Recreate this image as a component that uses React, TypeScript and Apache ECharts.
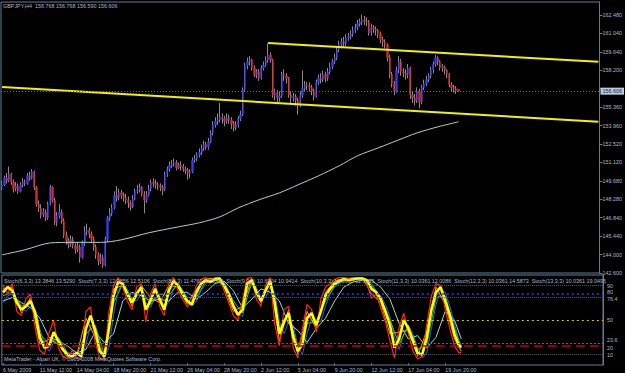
import React, { useEffect, useRef } from 'react';
import * as echarts from 'echarts';

// ---------- texts ----------
const SYMBOL_HEADER = 'GBPJPY,H4  156.768 156.768 156.590 156.606';
const STOCH_HEADER =
  'Stoch(6,3,3) 13.3846 13.5290  Stoch(7,3,3) 12.9856 12.5106  Stoch(8,3,3) 11.4762 11.5804  Stoch(9,3,3) 10.6304 10.9414  Stoch(10,3,3) 10.0630 11.0335  Stoch(11,3,3) 10.0361 12.0086  Stoch(12,3,3) 10.0361 14.5873  Stoch(13,3,3) 10.0361 19.0495';
const COPYRIGHT = 'MetaTrader - Alpari UK, \u00a9 2001-2008 MetaQuotes Software Corp.';

// ---------- axes ----------
const PRICE_TICKS = ['142.600', '144.000', '145.440', '146.840', '148.280', '149.680', '151.120', '152.520', '153.960', '155.360', '', '158.200', '159.640', '161.040', '162.480'];
const PRICE_MIN = 142.6;
const PRICE_STEP = 1.42;
const PRICE_MAX = 163.48;
const CURRENT_PRICE = 156.606;
const CURRENT_LABEL = '156.606';

const TIME_TICKS = ['6 May 2009', '11 May 12:00', '14 May 04:00', '18 May 20:00', '21 May 12:00', '26 May 04:00', '28 May 20:00', '2 Jun 12:00', '5 Jun 04:00', '9 Jun 20:00', '12 Jun 12:00', '17 Jun 04:00', '19 Jun 20:00'];
const BARS_PER_TICK = 16;
const SLOT_COUNT = 261;

// ---------- price data: [open, close, low, high] ----------
const CANDLES: number[][] = [
  [149.2, 149.4, 149.0, 149.7], [149.4, 149.9, 149.3, 150.1], [149.9, 149.7, 149.5, 150.3], [149.7, 150.2, 149.6, 150.8],
  [150.2, 149.6, 149.4, 150.3], [149.6, 149.1, 148.8, 149.8], [149.1, 149.3, 148.9, 149.6], [149.3, 148.9, 148.7, 149.5],
  [148.9, 149.4, 148.8, 149.6], [149.4, 149.6, 149.2, 149.9], [149.6, 149.5, 149.3, 149.8], [149.5, 150.1, 149.4, 150.3],
  [150.1, 149.9, 149.7, 150.4], [149.9, 150.4, 149.8, 150.6], [150.4, 149.2, 149.0, 150.5], [149.2, 147.9, 147.7, 149.3],
  [147.9, 147.6, 147.3, 148.2], [147.6, 147.1, 146.8, 147.9], [147.1, 147.3, 146.9, 147.6], [147.3, 146.85, 146.6, 147.5],
  [146.85, 147.9, 146.7, 148.1], [147.9, 149.2, 147.8, 149.4], [149.2, 148.2, 148.0, 149.3], [148.2, 146.5, 146.3, 148.4],
  [146.5, 147.0, 146.2, 147.3], [147.0, 147.3, 146.8, 147.9], [147.3, 146.6, 146.4, 147.5], [146.6, 145.5, 145.3, 146.8],
  [145.5, 145.1, 144.8, 145.8], [145.1, 144.8, 144.5, 145.3], [144.8, 145.2, 144.6, 145.5], [145.2, 144.7, 144.5, 145.4],
  [144.7, 144.4, 144.1, 144.9], [144.4, 144.6, 144.2, 145.0], [144.6, 143.8, 143.4, 144.8], [143.8, 144.9, 143.7, 145.1],
  [144.9, 145.8, 144.7, 146.2], [145.8, 145.9, 145.5, 146.4], [145.9, 145.6, 145.3, 146.1], [145.6, 145.2, 144.9, 145.8],
  [145.2, 144.6, 144.3, 145.4], [144.6, 144.0, 143.7, 144.8], [144.0, 143.5, 143.2, 144.2], [143.5, 143.8, 143.3, 144.1],
  [143.8, 143.2, 143.0, 144.0], [143.2, 145.2, 143.1, 145.4], [145.2, 146.85, 145.0, 147.0], [146.85, 147.2, 146.6, 147.6],
  [147.2, 147.6, 147.0, 147.9], [147.6, 148.6, 147.5, 148.9], [148.6, 148.4, 148.1, 149.3], [148.4, 148.8, 148.2, 149.1],
  [148.8, 148.6, 148.3, 149.0], [148.6, 148.4, 148.1, 148.8], [148.4, 148.2, 147.9, 148.7], [148.2, 148.0, 147.6, 148.5],
  [148.0, 147.7, 147.4, 148.2], [147.7, 148.3, 147.6, 148.6], [148.3, 148.9, 148.2, 149.1], [148.9, 149.0, 148.7, 149.4],
  [149.0, 149.2, 148.8, 149.5], [149.2, 148.7, 148.5, 149.3], [148.7, 148.2, 147.2, 148.9], [148.2, 148.6, 148.0, 148.9],
  [148.6, 149.1, 148.5, 149.4], [149.1, 149.6, 148.9, 149.8], [149.6, 149.5, 149.2, 149.9], [149.5, 149.4, 149.1, 149.8],
  [149.4, 149.3, 149.0, 149.6], [149.3, 149.2, 148.9, 149.5], [149.2, 149.0, 148.6, 149.4], [149.0, 150.2, 148.9, 150.4],
  [150.2, 150.6, 150.0, 150.8], [150.6, 150.9, 150.4, 151.2], [150.9, 151.0, 150.7, 151.3], [151.0, 151.1, 150.8, 151.4],
  [151.1, 150.7, 150.5, 151.3], [150.7, 150.9, 150.6, 151.1], [150.9, 150.8, 150.5, 151.2], [150.8, 150.6, 150.4, 151.0],
  [150.6, 150.5, 150.2, 150.8], [150.5, 150.3, 149.8, 150.7], [150.3, 150.4, 149.9, 150.6], [150.4, 151.3, 150.3, 151.5],
  [151.3, 151.4, 151.1, 151.7], [151.4, 151.7, 151.2, 151.9], [151.7, 151.9, 151.5, 152.2], [151.9, 152.2, 151.7, 152.5],
  [152.2, 152.5, 152.0, 152.8], [152.5, 152.3, 152.1, 152.7], [152.3, 152.7, 152.1, 153.0], [152.7, 153.4, 152.6, 153.6],
  [153.4, 154.0, 153.2, 154.3], [154.0, 154.3, 153.8, 154.6], [154.3, 154.4, 154.0, 154.9], [154.4, 154.6, 154.2, 155.7],
  [154.6, 154.5, 154.1, 154.9], [154.5, 154.3, 153.9, 154.7], [154.3, 154.6, 154.1, 154.9], [154.6, 154.4, 154.1, 154.8],
  [154.4, 154.1, 153.7, 154.6], [154.1, 153.8, 153.5, 154.3], [153.8, 154.0, 153.6, 154.3], [154.0, 154.5, 153.8, 154.7],
  [154.5, 154.8, 154.3, 155.1], [154.8, 156.7, 154.7, 156.9], [156.7, 158.6, 156.6, 158.8], [158.6, 158.9, 158.3, 159.2],
  [158.9, 159.0, 158.6, 159.3], [159.0, 158.4, 158.2, 159.1], [158.4, 157.9, 157.7, 158.6], [157.9, 158.1, 157.6, 158.3],
  [158.1, 157.6, 157.4, 158.3], [157.6, 158.4, 157.5, 158.6], [158.4, 158.6, 158.2, 158.9], [158.6, 159.0, 158.5, 159.3],
  [159.0, 159.4, 158.8, 160.3], [159.4, 159.0, 158.8, 159.6], [159.0, 156.3, 156.1, 159.1], [156.3, 156.5, 155.9, 156.8],
  [156.5, 156.1, 155.7, 156.7], [156.1, 156.25, 155.8, 156.6], [156.25, 157.9, 156.1, 158.1], [157.9, 157.8, 157.4, 158.3],
  [157.8, 157.6, 157.2, 158.0], [157.6, 156.3, 156.1, 157.7], [156.3, 156.1, 155.6, 156.6], [156.1, 156.2, 155.8, 156.5],
  [156.2, 155.9, 155.5, 156.4], [155.9, 155.6, 154.8, 156.1], [155.6, 156.3, 155.4, 156.6], [156.3, 156.8, 156.1, 158.2],
  [156.8, 157.1, 156.6, 157.4], [157.1, 157.0, 156.7, 157.3], [157.0, 156.9, 156.6, 157.3], [156.9, 156.6, 156.3, 157.1],
  [156.6, 156.2, 155.9, 156.8], [156.2, 157.3, 156.1, 157.5], [157.3, 157.6, 157.1, 157.9], [157.6, 157.5, 157.2, 158.0],
  [157.5, 157.9, 157.3, 158.2], [157.9, 157.6, 157.3, 158.1], [157.6, 158.1, 157.4, 158.4], [158.1, 158.5, 157.9, 158.8],
  [158.5, 158.9, 158.3, 159.1], [158.9, 159.2, 158.7, 159.5], [159.2, 159.8, 159.0, 160.0], [159.8, 160.2, 159.6, 160.5],
  [160.2, 160.4, 159.9, 160.7], [160.4, 160.3, 160.0, 160.8], [160.3, 160.7, 160.1, 161.0], [160.7, 160.8, 160.5, 161.1],
  [160.8, 161.0, 160.6, 161.3], [161.0, 161.3, 160.8, 161.6], [161.3, 161.5, 161.1, 161.8], [161.5, 161.8, 161.3, 162.1],
  [161.8, 161.95, 161.6, 162.2], [161.95, 162.1, 161.7, 162.5], [162.1, 162.0, 161.7, 162.4], [162.0, 161.95, 161.6, 162.3],
  [161.95, 161.1, 160.9, 162.1], [161.1, 161.5, 160.9, 161.8], [161.5, 161.4, 161.1, 161.7], [161.4, 161.3, 160.9, 161.6],
  [161.3, 161.0, 160.7, 161.4], [161.0, 160.6, 160.3, 161.2], [160.6, 160.4, 160.0, 160.8], [160.4, 160.2, 159.9, 160.6],
  [160.2, 159.2, 158.9, 160.3], [159.2, 157.9, 157.6, 159.4], [157.9, 157.2, 156.9, 158.1], [157.2, 156.6, 156.3, 157.4],
  [156.6, 158.25, 156.5, 158.5], [158.25, 158.9, 158.0, 159.3], [158.9, 158.1, 157.8, 159.1], [158.1, 158.0, 157.7, 158.4],
  [158.0, 157.9, 157.5, 158.3], [157.9, 158.4, 157.6, 158.7], [158.4, 156.3, 156.0, 158.5], [156.3, 156.1, 155.7, 156.6],
  [156.1, 155.9, 155.5, 156.4], [155.9, 156.6, 155.7, 156.9], [156.6, 155.8, 155.3, 156.8], [155.8, 156.9, 155.6, 157.1],
  [156.9, 157.2, 156.7, 157.5], [157.2, 157.5, 157.0, 157.8], [157.5, 157.8, 157.3, 158.0], [157.8, 158.25, 157.6, 158.5],
  [158.25, 158.7, 158.0, 158.9], [158.7, 159.2, 158.5, 159.4], [159.2, 158.9, 158.6, 159.3], [158.9, 158.4, 158.2, 159.0],
  [158.4, 158.5, 158.1, 158.7], [158.5, 158.25, 157.9, 158.6], [158.25, 157.9, 157.6, 158.3], [157.9, 157.1, 156.9, 158.0],
  [157.1, 156.9, 156.6, 157.3], [156.9, 156.8, 156.5, 157.1], [156.8, 156.6, 156.4, 157.0], [156.768, 156.606, 156.59, 156.768],
];

// long moving average: [bar index, value]
const MA_POINTS: number[][] = [
  [0, 144.0], [10, 144.39], [21, 144.92], [30, 144.96], [43, 144.96], [52, 145.16], [64, 145.7], [77, 146.16],
  [86, 146.47], [95, 146.93], [103, 147.62], [112, 148.24], [121, 148.78], [129, 149.39], [138, 150.09],
  [147, 150.86], [155, 151.63], [164, 152.24], [173, 152.86], [181, 153.4], [190, 153.86], [199, 154.25],
];

// trend lines: [bar index, price]
const UPPER_TREND: number[][] = [[116, 160.33], [260, 158.87]];
const LOWER_TREND: number[][] = [[0, 156.94], [260, 154.25]];

// ---------- stochastic data: [bar index, value] ----------
const STOCH_BLUE: number[][] = [[0,70],[2,78],[4,80],[6,74],[8,64],[10,60],[12,66],[14,62],[16,40],[18,22],[20,14],[22,24],[24,28],[26,18],[28,8],[30,4],[32,6],[34,5],[36,22],[38,44],[40,42],[42,22],[44,6],[46,18],[48,56],[50,84],[52,92],[54,86],[56,74],[58,72],[60,80],[62,70],[64,64],[66,76],[68,78],[70,66],[72,70],[74,86],[76,92],[78,84],[80,74],[82,66],[84,72],[86,84],[88,92],[90,95],[92,96],[94,97],[96,94],[98,84],[100,70],[102,58],[104,54],[106,76],[108,92],[110,88],[112,76],[114,76],[116,88],[118,82],[120,48],[122,34],[124,48],[126,44],[128,20],[130,10],[132,34],[134,52],[136,50],[138,48],[140,66],[142,80],[144,88],[146,92],[148,95],[150,96],[152,96],[154,97],[156,98],[158,97],[160,92],[162,84],[164,78],[166,68],[168,54],[170,30],[172,16],[174,34],[176,44],[178,34],[180,18],[182,6],[184,12],[186,40],[188,68],[190,84],[192,82],[194,66],[196,46],[198,26],[199,20]];
const STOCH_CYAN: number[][] = [[0,72],[4,76],[8,70],[12,64],[16,52],[20,30],[24,26],[28,20],[32,12],[36,16],[40,36],[44,24],[48,34],[52,72],[56,82],[60,78],[64,72],[68,74],[72,72],[76,82],[80,82],[84,74],[88,82],[92,92],[96,95],[100,84],[104,64],[108,74],[112,86],[116,82],[120,72],[124,46],[128,38],[132,24],[136,40],[140,52],[144,72],[148,88],[152,94],[156,96],[160,96],[164,88],[168,74],[172,46],[176,28],[180,32],[184,18],[188,30],[192,60],[196,50],[199,28]];
const STOCH_GREEN: number[][] = [[0,78],[4,82],[8,66],[12,70],[16,34],[20,22],[24,30],[28,12],[32,10],[36,34],[40,44],[44,10],[48,70],[52,92],[56,74],[60,86],[64,68],[68,80],[72,78],[76,92],[80,76],[84,76],[88,95],[92,97],[96,92],[100,72],[104,58],[108,95],[112,74],[116,92],[120,40],[124,56],[128,18],[132,46],[136,48],[140,72],[144,90],[148,96],[152,97],[156,98],[160,90],[164,76],[168,50],[172,22],[176,44],[180,16],[184,22],[188,76],[192,78],[196,40],[199,18]];
const STOCH_ORANGE: number[][] = [[0,86],[4,88],[8,58],[12,76],[16,22],[20,28],[24,22],[28,7],[32,9],[36,52],[40,30],[44,5],[48,86],[52,90],[56,66],[60,90],[64,76],[68,70],[72,90],[76,88],[80,68],[84,86],[88,98],[92,98],[96,88],[100,60],[104,66],[108,98],[112,70],[116,97],[120,26],[124,62],[128,10],[132,60],[136,40],[140,82],[144,95],[148,98],[152,98],[156,99],[160,80],[164,70],[168,34],[172,36],[176,38],[180,8],[184,38],[188,88],[192,68],[196,28],[199,14]];
const STOCH_RED: number[][] = [[0,90],[2,80],[4,92],[6,60],[8,55],[10,75],[12,80],[14,40],[16,15],[18,10],[20,35],[22,50],[24,18],[26,8],[28,5],[30,15],[32,6],[34,4],[36,60],[38,65],[40,25],[42,6],[44,4],[46,60],[48,90],[50,99],[52,88],[54,72],[56,62],[58,88],[60,92],[62,48],[64,80],[66,92],[68,66],[70,55],[72,92],[74,99],[76,84],[78,74],[80,65],[82,72],[84,90],[86,97],[88,99],[90,96],[92,99],[94,99],[96,84],[98,70],[100,55],[102,50],[104,72],[106,98],[108,99],[110,74],[112,66],[114,90],[116,99],[118,45],[120,20],[122,62],[124,66],[126,18],[128,6],[130,40],[132,68],[134,62],[136,36],[138,74],[140,88],[142,92],[144,97],[146,99],[148,99],[150,98],[152,99],[154,99],[156,99],[158,92],[160,75],[162,80],[164,64],[166,48],[168,26],[170,6],[172,42],[174,58],[176,34],[178,14],[180,5],[182,8],[184,45],[186,78],[188,92],[190,90],[192,62],[194,40],[196,20],[198,12],[199,13]];
const STOCH_YELLOW: number[][] = [[0,82],[2,88],[4,84],[6,70],[8,62],[10,66],[12,72],[14,58],[16,30],[18,18],[20,20],[22,36],[24,26],[26,16],[28,10],[30,8],[32,12],[34,8],[36,40],[38,55],[40,38],[42,14],[44,8],[46,40],[48,78],[50,94],[52,92],[54,80],[56,70],[58,80],[60,88],[62,62],[64,72],[66,86],[68,74],[70,62],[72,84],[74,95],[76,90],[78,80],[80,72],[82,68],[84,82],[86,92],[88,96],[90,94],[92,97],[94,98],[96,90],[98,80],[100,66],[102,56],[104,62],[106,92],[108,96],[110,82],[112,72],[114,84],[116,95],[118,70],[120,34],[122,48],[124,58],[126,30],[128,14],[130,22],[132,52],[134,58],[136,44],[138,60],[140,78],[142,86],[144,92],[146,95],[148,97],[150,96],[152,97],[154,98],[156,98],[158,96],[160,86],[162,82],[164,74],[166,60],[168,44],[170,18],[172,28],[174,50],[176,40],[178,26],[180,12],[182,10],[184,30],[186,62],[188,82],[190,88],[192,72],[194,56],[196,34],[198,20],[199,19]];

const LEVEL_VALUES = [90, 80, 76.4, 50, 23.6, 20, 10];
const LEVEL_LABELS = ['90', '80', '76.4', '50', '23.6', '20', '10'];
const LEVEL_NOTES = ['(Buy Above/Sell Below 76 Line)', '(Buy Above/Sell Below 50 Line)', '(Sell Below/Buy Above 24 Line)'];
const NOTE_LEVELS = [76.4, 50, 23.6];
const STOCH_MAX_LABEL = '100';

// ---------- styles ----------
const FONT = 'Liberation Sans';
const FS = 5.4;
const TXT = '#a3bad2';
const FRAME = '#5f7f98';
const BULL = '#3a3af0';
const BEAR = '#d62a2a';
const WICK = '#8a8a8a';

const LEVEL_STYLE: Record<string, any> = {
  '90': { color: '#5a5a5a', type: 'dotted', width: 1 },
  '80': { color: '#2b3cff', type: [2, 3], width: 1.5 },
  '76.4': { color: '#3c5a9a', type: 'dotted', width: 1 },
  '50': { color: '#d8d000', type: [2, 3], width: 1 },
  '23.6': { color: '#b84848', type: [2, 2], width: 1 },
  '20': { color: '#c80000', type: [9, 5], width: 1.5 },
  '10': { color: '#5a5a5a', type: 'dotted', width: 1 },
};
// small vertical nudges so that neighbouring level labels do not collide
const LEVEL_LABEL_SHIFT: Record<string, number> = { '90': 0.6, '80': -2, '76.4': 1.5, '23.6': -2.5, '20': 2.5, '10': 0 };

function buildOption() {
  const categories = Array.from({ length: SLOT_COUNT }, (_, i) => String(i));
  const bodies = CANDLES.map(([o, c]) => [o, c, Math.min(o, c), Math.max(o, c)]);
  const showTime = (i: number) => i % BARS_PER_TICK === 0 && i / BARS_PER_TICK < TIME_TICKS.length;

  const levelLines: any[] = LEVEL_VALUES.map((v, k) => ({
    yAxis: v,
    lineStyle: LEVEL_STYLE[LEVEL_LABELS[k]],
    label: {
      show: true, position: 'end', formatter: LEVEL_LABELS[k], color: TXT, fontSize: FS, fontFamily: FONT, distance: 4,
      offset: [0, LEVEL_LABEL_SHIFT[LEVEL_LABELS[k]] || 0],
    },
  }));
  levelLines.push({
    yAxis: 100,
    lineStyle: { opacity: 0 },
    label: { show: true, position: 'end', formatter: STOCH_MAX_LABEL, color: TXT, fontSize: FS, fontFamily: FONT, distance: 4, offset: [0, 3] },
  });
  NOTE_LEVELS.forEach((v, k) => {
    levelLines.push({
      yAxis: v,
      lineStyle: { opacity: 0 },
      label: { show: true, position: 'insideStartTop', formatter: LEVEL_NOTES[k], color: '#7d93ab', fontSize: FS, fontFamily: FONT, distance: 2 },
    });
  });

  const stochLines = [
    { data: STOCH_BLUE, color: '#2a5cff', width: 1 },
    { data: STOCH_CYAN, color: '#8fd8d8', width: 1 },
    { data: STOCH_GREEN, color: '#38c838', width: 1 },
    { data: STOCH_ORANGE, color: '#ff9a1e', width: 1 },
    { data: STOCH_RED, color: '#ff2424', width: 1.2 },
    { data: STOCH_YELLOW, color: '#ffff00', width: 2.6 },
  ];

  return {
    animation: false,
    backgroundColor: '#000000',
    textStyle: { fontFamily: FONT },
    title: [
      { text: SYMBOL_HEADER, left: 3, top: 3, padding: 0, textStyle: { color: TXT, fontSize: FS, fontWeight: 'normal', fontFamily: FONT } },
      { text: STOCH_HEADER, left: 4, top: 278, padding: 0, textStyle: { color: TXT, fontSize: FS, fontWeight: 'normal', fontFamily: FONT } },
      { text: COPYRIGHT, left: 4, top: 356, padding: 0, textStyle: { color: TXT, fontSize: FS, fontWeight: 'normal', fontFamily: FONT } },
    ],
    grid: [
      { left: 1, top: 2, width: 602, height: 271, show: true, borderColor: FRAME, borderWidth: 1, backgroundColor: 'transparent' },
      { left: 1, top: 275, width: 602, height: 90, show: true, borderColor: FRAME, borderWidth: 1, backgroundColor: 'transparent' },
    ],
    xAxis: [
      {
        type: 'category', gridIndex: 0, data: categories, boundaryGap: true,
        axisLine: { show: false }, axisTick: { show: false }, axisLabel: { show: false }, splitLine: { show: false },
      },
      {
        type: 'category', gridIndex: 1, data: categories, boundaryGap: true,
        axisLine: { show: false },
        axisTick: { show: true, alignWithLabel: true, interval: (i: number) => showTime(i), length: 2, lineStyle: { color: FRAME } },
        axisLabel: {
          show: true, interval: (i: number) => showTime(i), align: 'left', margin: 2,
          color: TXT, fontSize: FS, fontFamily: FONT,
          formatter: (_v: string, i: number) => (showTime(i) ? TIME_TICKS[i / BARS_PER_TICK] : ''),
        },
        splitLine: { show: false },
      },
    ],
    yAxis: [
      {
        type: 'value', gridIndex: 0, position: 'right', min: PRICE_MIN, max: PRICE_MAX, interval: PRICE_STEP,
        axisLine: { show: true, lineStyle: { color: FRAME } },
        axisTick: { show: true, length: 3, lineStyle: { color: FRAME } },
        axisLabel: {
          show: true, margin: 3, color: TXT, fontSize: FS, fontFamily: FONT, showMaxLabel: false,
          formatter: (v: number) => PRICE_TICKS[Math.round((v - PRICE_MIN) / PRICE_STEP)] ?? '',
        },
        splitLine: { show: false },
      },
      {
        type: 'value', gridIndex: 1, position: 'right', min: -2, max: 102,
        axisLine: { show: true, lineStyle: { color: FRAME } },
        axisTick: { show: false }, axisLabel: { show: false }, splitLine: { show: false },
      },
    ],
    series: [
      {
        type: 'line', xAxisIndex: 0, yAxisIndex: 0, data: [[0, CURRENT_PRICE]], showSymbol: false, z: 1,
        lineStyle: { opacity: 0 }, silent: true,
        markLine: {
          silent: true, symbol: 'none', animation: false,
          data: [{
            yAxis: CURRENT_PRICE,
            lineStyle: { color: '#5e7474', type: [1, 2], width: 1 },
            label: {
              show: true, position: 'end', formatter: CURRENT_LABEL, color: '#10202e', backgroundColor: '#b9cde0',
              fontSize: FS, fontFamily: FONT, padding: [1, 2, 1, 2], distance: 1,
            },
          }],
        },
      },
      {
        type: 'line', xAxisIndex: 0, yAxisIndex: 0, data: MA_POINTS, showSymbol: false, smooth: 0.3,
        lineStyle: { color: '#a9d0d0', width: 1 }, silent: true,
      },
      {
        type: 'candlestick', xAxisIndex: 0, yAxisIndex: 0, data: CANDLES, barWidth: 1, silent: true,
        itemStyle: { color: WICK, color0: WICK, borderColor: WICK, borderColor0: WICK, borderWidth: 1 },
      },
      {
        type: 'candlestick', xAxisIndex: 0, yAxisIndex: 0, data: bodies, barWidth: 1.8, silent: true,
        itemStyle: { color: BULL, color0: BEAR, borderColor: BULL, borderColor0: BEAR, borderWidth: 0.4 },
      },
      {
        type: 'line', xAxisIndex: 0, yAxisIndex: 0, data: UPPER_TREND, showSymbol: false,
        lineStyle: { color: '#f2f200', width: 2 }, silent: true,
      },
      {
        type: 'line', xAxisIndex: 0, yAxisIndex: 0, data: LOWER_TREND, showSymbol: false,
        lineStyle: { color: '#f2f200', width: 2 }, silent: true,
      },
      {
        type: 'line', xAxisIndex: 1, yAxisIndex: 1, data: [[0, -10]], showSymbol: false, z: 1,
        lineStyle: { opacity: 0 }, silent: true,
        markLine: { silent: true, symbol: 'none', animation: false, data: levelLines },
      },
      ...stochLines.map((s) => ({
        type: 'line', xAxisIndex: 1, yAxisIndex: 1, data: s.data, showSymbol: false, silent: true,
        lineStyle: { color: s.color, width: s.width },
      })),
    ],
  };
}

export default function App() {
  const ref = useRef<HTMLDivElement>(null);
  useEffect(() => {
    const chart = echarts.init(ref.current!, null, { renderer: 'svg' });
    chart.setOption(buildOption() as any);
    return () => chart.dispose();
  }, []);
  return (
    <div
      ref={ref}
      style={{ position: 'fixed', left: 0, top: 0, width: 625, height: 373, background: '#000' }}
    />
  );
}
